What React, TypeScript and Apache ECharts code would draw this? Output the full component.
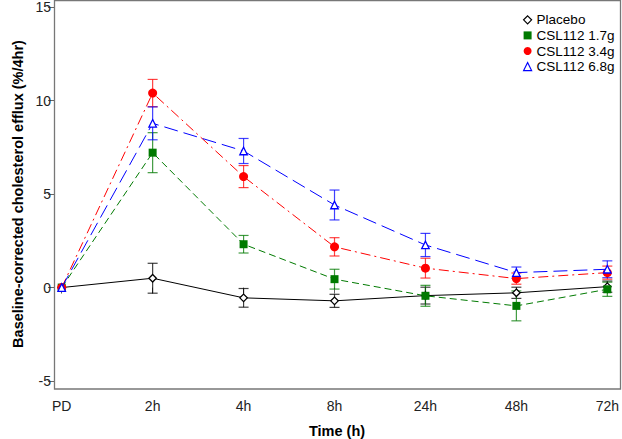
import React, { useEffect, useRef } from "react";
import * as echarts from "echarts";

const timepoints = ["PD", "2h", "4h", "8h", "24h", "48h", "72h"];
const yTicks = [-5, 0, 5, 10, 15];

const placeboMean = [0, 0.5, -0.55, -0.71, -0.43, -0.28, 0.05];
const placeboErr = [0, 0.8, 0.5, 0.35, 0.45, 0.3, 0.3];

const csl17Mean = [0, 7.22, 2.32, 0.45, -0.44, -0.98, -0.09];
const csl17Err = [0, 1.07, 0.47, 0.53, 0.56, 0.8, 0.38];

const csl34Mean = [0, 10.41, 5.94, 2.18, 1.04, 0.48, 0.8];
const csl34Err = [0, 0.73, 0.59, 0.49, 0.53, 0.3, 0.35];

const csl68Mean = [0, 8.79, 7.31, 4.42, 2.28, 0.8, 0.98];
const csl68Err = [0, 0.88, 0.67, 0.8, 0.62, 0.3, 0.45];

const seriesNames = ["Placebo", "CSL112 1.7g", "CSL112 3.4g", "CSL112 6.8g"];

const FONT = "'Liberation Sans', Arial, sans-serif";

export default function App() {
  const ref = useRef<HTMLDivElement>(null);

  useEffect(() => {
    if (!ref.current) return;
    const chart = echarts.init(ref.current, undefined, { renderer: "svg" });

    const defs = [
      { name: seriesNames[0], mean: placeboMean, err: placeboErr, color: "#000000", symbol: "diamond", size: 7.5, open: true, dash: "solid" as any },
      { name: seriesNames[1], mean: csl17Mean, err: csl17Err, color: "#007a00", symbol: "rect", size: 8, open: false, dash: [7, 4] },
      { name: seriesNames[2], mean: csl34Mean, err: csl34Err, color: "#ff0000", symbol: "circle", size: 9, open: false, dash: [10, 4, 2, 4] },
      { name: seriesNames[3], mean: csl68Mean, err: csl68Err, color: "#0000ff", symbol: "triangle", size: 7.5, open: true, dash: [14, 6] },
    ];

    const series: any[] = [];
    defs.forEach((d) => {
      const errData = d.mean
        .map((m, i) => [i, m - d.err[i], m + d.err[i]])
        .filter((_, i) => d.err[i] > 0);
      series.push({
        type: "custom",
        name: d.name + " err",
        z: 1,
        silent: true,
        data: errData,
        encode: { x: 0, y: [1, 2] },
        renderItem: (params: any, api: any) => {
          const x = api.value(0);
          const lo = api.coord([x, api.value(1)]);
          const hi = api.coord([x, api.value(2)]);
          const cap = 5;
          const style = { stroke: d.color, lineWidth: 1.2, opacity: 0.75 };
          return {
            type: "group",
            children: [
              { type: "line", shape: { x1: lo[0], y1: lo[1], x2: hi[0], y2: hi[1] }, style },
              { type: "line", shape: { x1: lo[0] - cap, y1: lo[1], x2: lo[0] + cap, y2: lo[1] }, style },
              { type: "line", shape: { x1: hi[0] - cap, y1: hi[1], x2: hi[0] + cap, y2: hi[1] }, style },
            ],
          };
        },
      });
    });
    defs.forEach((d, k) => {
      series.push({
        type: "line",
        name: d.name,
        z: 3 + k,
        data: d.mean,
        symbol: d.symbol,
        symbolSize: d.size,
        showAllSymbol: true,
        lineStyle: { color: d.color, width: 1, type: d.dash },
        itemStyle: d.open
          ? { color: "#ffffff", borderColor: d.color, borderWidth: 1.3 }
          : { color: d.color, borderColor: d.color, borderWidth: 0 },
        emphasis: { disabled: true },
      });
    });

    const legendData = defs.map((d) => ({
      name: d.name,
      icon: d.symbol,
      itemStyle: d.open
        ? { color: "#ffffff", borderColor: d.color, borderWidth: 1.2 }
        : { color: d.color, borderWidth: 0 },
    }));

    chart.setOption({
      animation: false,
      grid: { left: 61.7, right: 10.3, top: 7.3, bottom: 58 },
      xAxis: {
        type: "category",
        data: timepoints,
        boundaryGap: false,
        offset: 8,
        axisLine: { show: false },
        axisTick: { show: true, alignWithLabel: true, length: 6, lineStyle: { color: "#666" } },
        axisLabel: { color: "#222", fontSize: 14, fontFamily: FONT, margin: 10 },
        splitLine: { show: false },
      },
      yAxis: {
        type: "value",
        min: yTicks[0],
        max: yTicks[yTicks.length - 1],
        interval: 5,
        offset: 7.7,
        axisLine: { show: false },
        axisTick: { show: true, length: 6, lineStyle: { color: "#666" } },
        axisLabel: { color: "#222", fontSize: 14, fontFamily: FONT, margin: 3 },
        splitLine: { show: false },
      },
      legend: {
        orient: "vertical",
        left: 518,
        top: 7,
        itemWidth: 8,
        itemHeight: 8,
        itemGap: 0,
        itemStyle: { borderWidth: 0 },
        lineStyle: { width: 0 },
        textStyle: { fontSize: 13.5, fontFamily: FONT, color: "#000", lineHeight: 15.6, padding: [0, 0, 0, 0] },
        data: legendData,
      },
      graphic: [
        {
          type: "rect",
          shape: { x: 54.5, y: 0.5, width: 566, height: 388.5 },
          style: { fill: "none", stroke: "#777", lineWidth: 1.3 },
          z: 0,
          silent: true,
        },
        {
          type: "text",
          x: 18,
          y: 194,
          rotation: Math.PI / 2,
          style: {
            text: "Baseline-corrected cholesterol efflux (%/4hr)",
            font: `bold 14.5px ${FONT}`,
            fill: "#000",
            align: "center",
            verticalAlign: "middle",
          },
        },
        {
          type: "text",
          x: 337,
          y: 431,
          style: {
            text: "Time (h)",
            font: `bold 14.5px ${FONT}`,
            fill: "#000",
            align: "center",
            verticalAlign: "middle",
          },
        },
      ],
      series,
    });

    return () => chart.dispose();
  }, []);

  return <div ref={ref} style={{ width: 622, height: 439, position: "absolute", left: 0, top: 0 }} />;
}
